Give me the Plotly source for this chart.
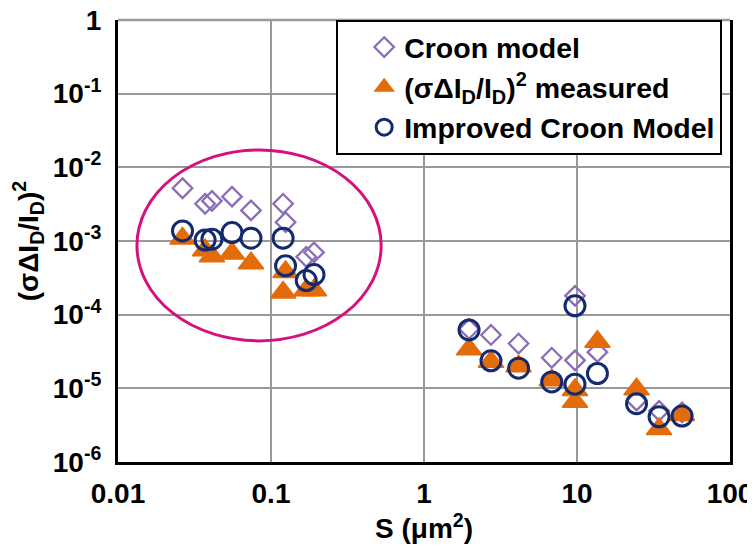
import plotly.graph_objects as go

# ---- data ----
S_um2 = [0.0264, 0.0371, 0.0411, 0.0556, 0.074, 0.120, 0.1245, 0.170, 0.191,
         1.97, 2.74, 4.15, 6.84, 9.7, 9.7, 13.6, 24.5, 34.4, 48.6]
croon_model = [5.2e-3, 3.2e-3, 3.5e-3, 4.0e-3, 2.6e-3, 3.2e-3, 1.8e-3, 6.1e-4, 7.0e-4,
               6.4e-5, 5.3e-5, 4.06e-5, 2.6e-5, 2.4e-5, 1.8e-4, 3.1e-5, 6.8e-6, 4.95e-6, 4.7e-6]
measured = [1.08e-3, 7.5e-4, 6.2e-4, 6.75e-4, 5.0e-4, 2.0e-4, 3.8e-4, 2.15e-4, 2.15e-4,
            3.4e-5, 2.3e-5, 2.0e-5, 1.29e-5, 9.5e-6, 6.6e-6, 4.3e-5, 9.7e-6, 2.8e-6, 4.35e-6]
improved_croon = [1.37e-3, 1.03e-3, 1.06e-3, 1.3e-3, 1.09e-3, 1.09e-3, 4.6e-4, 2.9e-4, 3.5e-4,
                  6.2e-5, 2.36e-5, 1.88e-5, 1.22e-5, 1.14e-5, 1.32e-4, 1.59e-5, 6.2e-6, 4.1e-6, 4.2e-6]

x_tick_vals = [0.01, 0.1, 1, 10, 100]
x_tick_text = ["0.01", "0.1", "1", "10", "100"]
y_tick_vals = [1e-6, 1e-5, 1e-4, 1e-3, 1e-2, 1e-1, 1]
y_tick_text = ["10<sup>-6</sup>", "10<sup>-5</sup>", "10<sup>-4</sup>", "10<sup>-3</sup>",
               "10<sup>-2</sup>", "10<sup>-1</sup>", "1"]

FONT = "Liberation Sans, Arial, sans-serif"
PURPLE = "#8B6CB8"
ORANGE = "#E36C0A"
NAVY = "#142a6e"
GRID = "#999999"

fig = go.Figure()
fig.add_trace(go.Scatter(
    x=S_um2, y=croon_model, mode="markers", name="Croon model",
    marker=dict(symbol="diamond-open", size=15, color=PURPLE, line=dict(width=2.3, color=PURPLE)),
))
fig.add_trace(go.Scatter(
    x=S_um2, y=measured, mode="markers",
    name="(σΔI<sub>D</sub>/I<sub>D</sub>)<sup>2</sup> measured",
    marker=dict(symbol="triangle-up", size=22, color=ORANGE, line=dict(width=1.5, color=ORANGE)),
))
fig.add_trace(go.Scatter(
    x=S_um2, y=improved_croon, mode="markers", name="Improved Croon Model",
    marker=dict(symbol="circle-open", size=20, color=NAVY, line=dict(width=3, color=NAVY)),
))

# gray top edge of the plot area (as the top gridline)
fig.add_shape(type="line", xref="x domain", yref="y domain",
              x0=0, x1=1, y0=1, y1=1, line=dict(color=GRID, width=2.5), layer="below")

# highlight ellipse around the small-area cluster
fig.add_shape(type="circle", xref="x domain", yref="y domain",
              x0=0.031, x1=0.43, y0=0.274, y1=0.706,
              line=dict(color="#D6117E", width=3), layer="above")

# the page body has an 8px default margin, so the figure is sized to fit the window
fig.update_layout(
    width=747, height=541,
    margin=dict(l=110, r=25, t=12, b=87, autoexpand=False),
    paper_bgcolor="white", plot_bgcolor="white",
    font=dict(family=FONT, size=28, color="black", weight="bold"),
    showlegend=True,
    legend=dict(x=0.3565, y=1.0, xanchor="left", yanchor="top",
                bgcolor="white", bordercolor="black", borderwidth=2,
                font=dict(family=FONT, size=28.5, color="black", weight="bold"),
                indentation=26, itemwidth=30, tracegroupgap=0),
)
fig.update_xaxes(
    type="log", range=[-2, 2], automargin=False,
    tickvals=x_tick_vals, ticktext=x_tick_text,
    showgrid=True, gridcolor=GRID, gridwidth=2,
    showline=True, linecolor="black", linewidth=3, mirror=False,
    ticks="", ticklabelstandoff=4, ticklabeloverflow="allow",
    title=dict(text="S (μm<sup>2</sup>)", standoff=0,
               font=dict(family=FONT, size=28, color="black", weight="bold")),
    zeroline=False,
)
fig.update_yaxes(
    type="log", range=[-6, 0], automargin=False,
    tickvals=y_tick_vals, ticktext=y_tick_text,
    showgrid=True, gridcolor=GRID, gridwidth=2,
    showline=True, linecolor="black", linewidth=3, mirror=True,
    ticks="", ticklabelstandoff=8, ticklabeloverflow="allow",
    title=dict(text="(σΔI<sub>D</sub>/I<sub>D</sub>)<sup>2</sup>", standoff=11,
               font=dict(family=FONT, size=28, color="black", weight="bold")),
    zeroline=False,
)

fig.write_html("out.html")
